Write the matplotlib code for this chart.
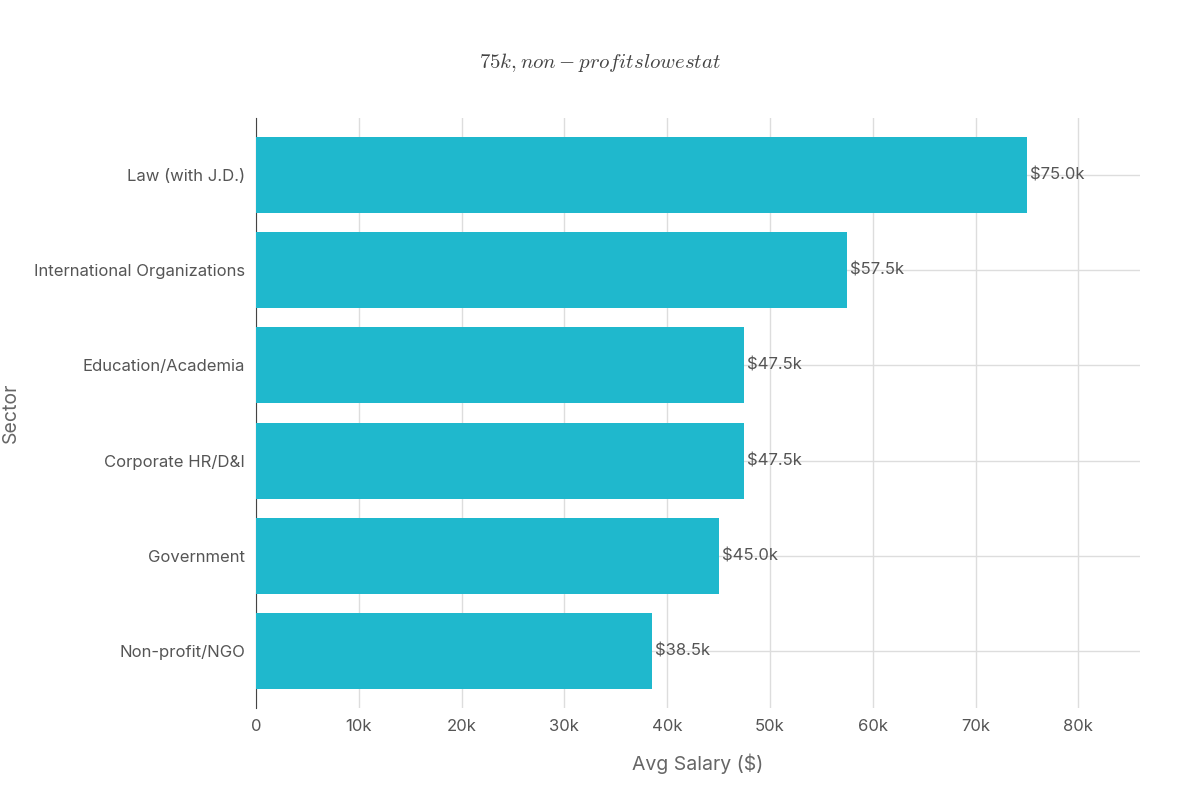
import matplotlib
matplotlib.use("Agg")
import matplotlib.pyplot as plt

sectors = ["Law (with J.D.)", "International Organizations", "Education/Academia",
           "Corporate HR/D&I", "Government", "Non-profit/NGO"]
salaries = [75000, 57500, 47500, 47500, 45000, 38500]
labels = ["$75.0k", "$57.5k", "$47.5k", "$47.5k", "$45.0k", "$38.5k"]
xticks = [0, 10000, 20000, 30000, 40000, 50000, 60000, 70000, 80000]
xticklabels = ["0", "10k", "20k", "30k", "40k", "50k", "60k", "70k", "80k"]

plt.rcParams['font.family'] = ['Inter', 'DejaVu Sans']
plt.rcParams['mathtext.fontset'] = 'cm'
fig = plt.figure(figsize=(12, 8), dpi=100)
ax = fig.add_axes([256/1200, 92/800, 884/1200, 590/800])
y = list(range(len(sectors)))[::-1]
ax.barh(y, salaries, height=0.8, color="#1FB8CD", zorder=3)
for yi, v, lab in zip(y, salaries, labels):
    ax.text(v + 300, yi, lab.replace("$", r"\$"), va="center", ha="left",
            fontsize=12, color="#555555", zorder=4)
ax.set_yticks(y)
ax.set_yticklabels(sectors, fontsize=12, color="#555555")
ax.set_xticks(xticks)
ax.set_xticklabels(xticklabels, fontsize=12, color="#555555")
ax.set_xlim(0, 86000)
ax.set_ylim(-0.6, 5.6)
ax.grid(True, color="#dddddd", linewidth=1, zorder=0)
for s in ["top", "right", "bottom"]:
    ax.spines[s].set_visible(False)
ax.spines["left"].set_color("#444444")
ax.tick_params(axis="both", length=0, pad=8)
ax.set_xlabel("Avg Salary ($)", fontsize=14, color="#666666", labelpad=14)
ax.set_ylabel("Sector", fontsize=14, color="#666666", labelpad=10)
fig.text(0.5, 0.922, r"$75k, non-profits lowest at$", ha="center", va="center",
         fontsize=15, color="#444444")
fig.savefig("out.png", dpi=100)
